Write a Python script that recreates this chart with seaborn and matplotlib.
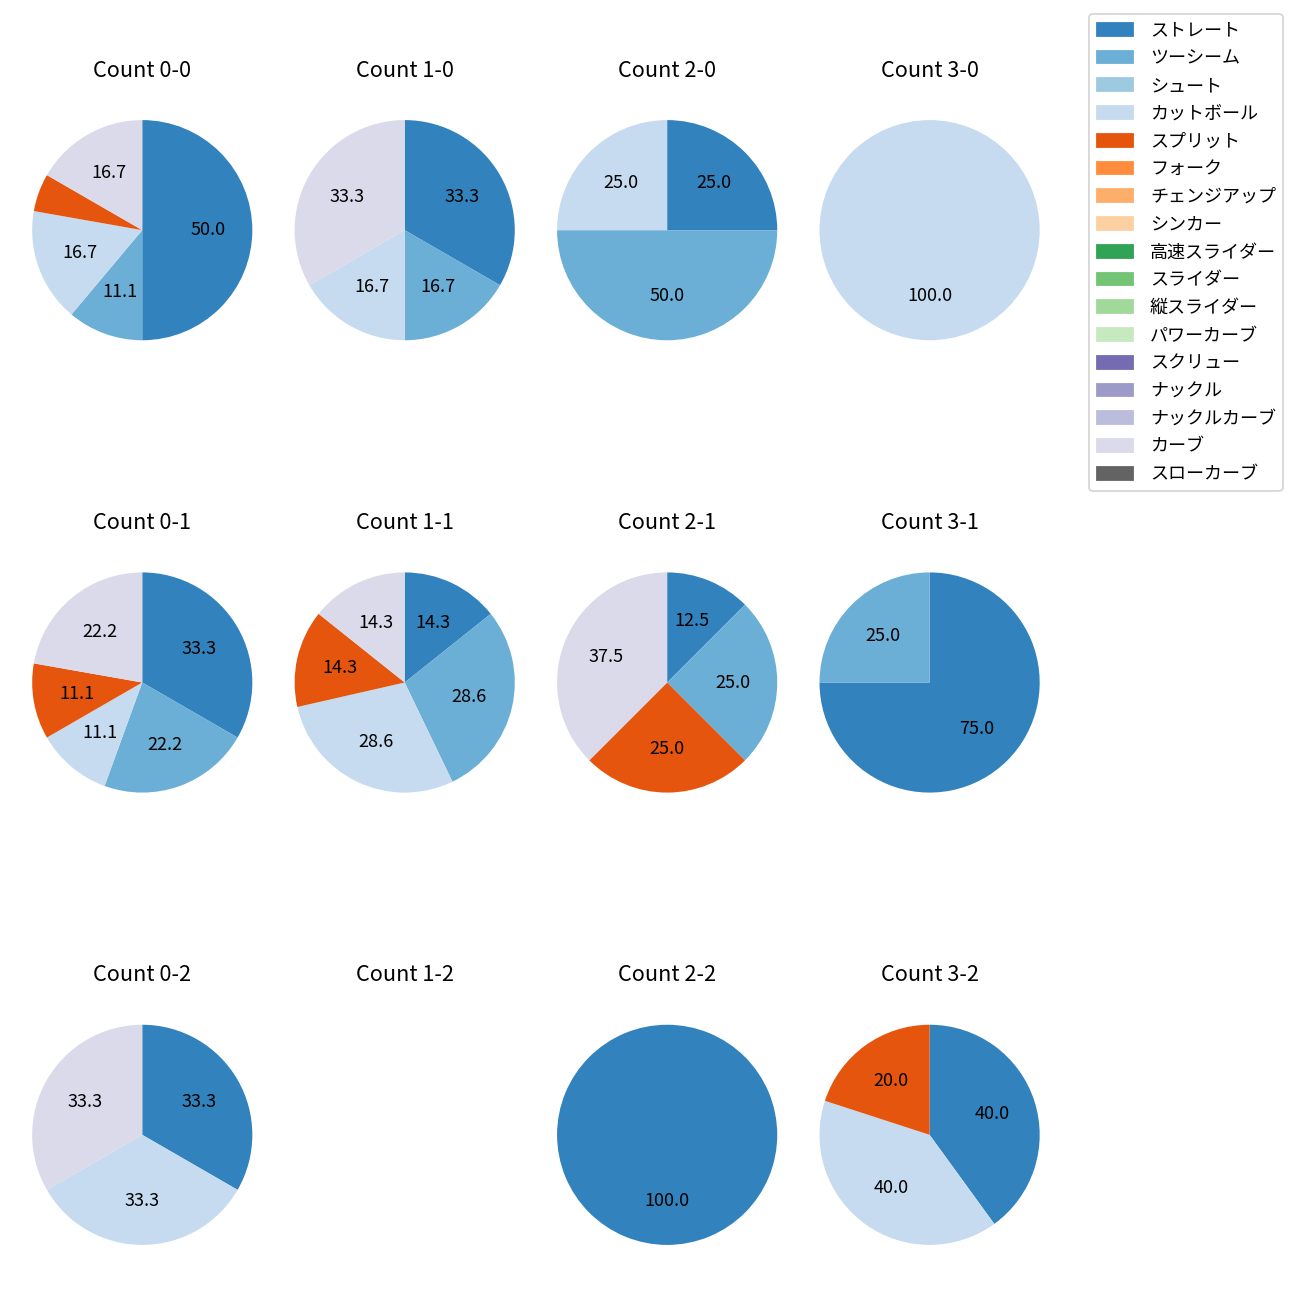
import matplotlib
matplotlib.use('Agg')
import matplotlib.pyplot as plt
import matplotlib.patches as mpatches
import seaborn as sns

plt.rcParams['font.family'] = ['Noto Sans CJK JP', 'DejaVu Sans']

# Pitch types (legend order) and pitch counts per ball-strike count
pitch_types = ['ストレート', 'ツーシーム', 'シュート', 'カットボール', 'スプリット', 'フォーク',
               'チェンジアップ', 'シンカー', '高速スライダー', 'スライダー', '縦スライダー',
               'パワーカーブ', 'スクリュー', 'ナックル', 'ナックルカーブ', 'カーブ', 'スローカーブ']

count_labels = ['0-0', '1-0', '2-0', '3-0',
                '0-1', '1-1', '2-1', '3-1',
                '0-2', '1-2', '2-2', '3-2']

c_0_0 = [9, 2, 0, 3, 1, 0, 0, 0, 0, 0, 0, 0, 0, 0, 0, 3, 0]
c_1_0 = [2, 1, 0, 1, 0, 0, 0, 0, 0, 0, 0, 0, 0, 0, 0, 2, 0]
c_2_0 = [1, 2, 0, 1, 0, 0, 0, 0, 0, 0, 0, 0, 0, 0, 0, 0, 0]
c_3_0 = [0, 0, 0, 1, 0, 0, 0, 0, 0, 0, 0, 0, 0, 0, 0, 0, 0]
c_0_1 = [3, 2, 0, 1, 1, 0, 0, 0, 0, 0, 0, 0, 0, 0, 0, 2, 0]
c_1_1 = [1, 2, 0, 2, 1, 0, 0, 0, 0, 0, 0, 0, 0, 0, 0, 1, 0]
c_2_1 = [1, 2, 0, 0, 2, 0, 0, 0, 0, 0, 0, 0, 0, 0, 0, 3, 0]
c_3_1 = [3, 1, 0, 0, 0, 0, 0, 0, 0, 0, 0, 0, 0, 0, 0, 0, 0]
c_0_2 = [1, 0, 0, 1, 0, 0, 0, 0, 0, 0, 0, 0, 0, 0, 0, 1, 0]
c_1_2 = [0, 0, 0, 0, 0, 0, 0, 0, 0, 0, 0, 0, 0, 0, 0, 0, 0]
c_2_2 = [1, 0, 0, 0, 0, 0, 0, 0, 0, 0, 0, 0, 0, 0, 0, 0, 0]
c_3_2 = [2, 0, 0, 2, 1, 0, 0, 0, 0, 0, 0, 0, 0, 0, 0, 0, 0]

all_counts = [c_0_0, c_1_0, c_2_0, c_3_0,
              c_0_1, c_1_1, c_2_1, c_3_1,
              c_0_2, c_1_2, c_2_2, c_3_2]

colors = sns.color_palette('tab20c', 20)[:len(pitch_types)]

fig, axes = plt.subplots(3, 4, figsize=(10, 10), dpi=130)
fig.subplots_adjust(left=0.0035, right=0.821, top=0.9288, bottom=0.0212,
                    wspace=-0.047, hspace=0.6436)

for ax, label, counts in zip(axes.flat, count_labels, all_counts):
    ax.set_title(f'Count {label}', fontsize=12, pad=8.8)
    if sum(counts) > 0:
        ax.pie(counts, colors=colors, startangle=90, counterclock=False,
               autopct=lambda p: f'{p:.1f}' if p >= 10 else '',
               wedgeprops={'linewidth': 0}, textprops={'fontsize': 10})
    ax.set_aspect('equal')
    ax.axis('off')

# Legend lists every pitch type, including ones not thrown
handles = [mpatches.Patch(color=c, label=t) for c, t in zip(colors, pitch_types)]
fig.legend(handles=handles, loc='upper right', bbox_to_anchor=(0.987, 0.989),
           borderaxespad=0, fontsize=10, labelspacing=0.54, handletextpad=0.95)

plt.savefig('out.png', dpi=130)
plt.close('all')
